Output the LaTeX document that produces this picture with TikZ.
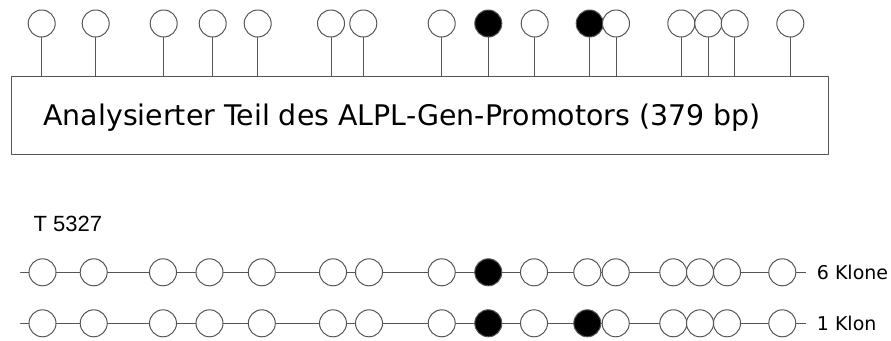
\documentclass[tikz,border=0pt]{standalone}
\usepackage{fontspec}
\setmainfont{DejaVu Sans}
\newfontfamily\arialfont{Liberation Sans}
\definecolor{strich}{RGB}{85,85,85}
\begin{document}
\begin{tikzpicture}[x=1pt,y=-1pt, line join=round, line cap=round,
	cpg/.style={circle, draw=strich, line width=1pt, fill=white, minimum size=27pt, inner sep=0pt},
	met/.style={cpg, fill=black},
	promobox/.style={draw=strich, line width=1pt, minimum width=817pt, minimum height=77.6pt, inner sep=0pt}]
	\def\ya{272.3} \def\yb{323.3} % Zeilen der Klone
	\useasboundingbox (0,0) rectangle (891,340);
	% Promotor mit CpG-Positionen
	\node[promobox] (promotor) at (419.5,115.5) {};
	\node[anchor=base west, font=\fontsize{28.4}{30}\selectfont] (titel) at (40,125) {Analysierter Teil des ALPL-Gen-Promotors (379 bp)};
	\foreach \x/\s [count=\i] in {41.7/cpg,95.7/cpg,163.7/cpg,212.7/cpg,257.7/cpg,331/cpg,363.3/cpg,441.7/cpg,488.3/met,534.7/cpg,589.7/met,616/cpg,681.3/cpg,708.3/cpg,734.7/cpg,790.3/cpg}{
		\node[\s] (t\i) at (\x,23.5) {};
		\draw[strich, line width=1pt] (t\i.south) -- (t\i.south |- promotor.north);
	}
	% Klone
	\node[anchor=base west, font=\arialfont\fontsize{22}{24}\selectfont] (probe) at (30,231.7) {T 5327};
	\coordinate (a0) at (20.7,\ya); \coordinate (aend) at (805.7,\ya);
	\coordinate (b0) at (20.7,\yb); \coordinate (bend) at (805.7,\yb);
	\draw[strich, line width=1pt] (a0) -- (aend);
	\draw[strich, line width=1pt] (b0) -- (bend);
	\foreach \x/\s/\r [count=\i] in {42.5/cpg/cpg,93.7/cpg/cpg,163/cpg/cpg,209.5/cpg/cpg,261.8/cpg/cpg,333/cpg/cpg,369/cpg/cpg,441.7/cpg/cpg,488.3/met/met,534/cpg/cpg,587.3/cpg/met,615.7/cpg/cpg,673.3/cpg/cpg,700/cpg/cpg,727/cpg/cpg,782.3/cpg/cpg}{
		\node[\s] (a\i) at (\x,\ya) {};
		\node[\r] (b\i) at (\x,\yb) {};
	}
	\node[anchor=west, font=\fontsize{19}{21}\selectfont, inner sep=0pt] (klonea) at (816.7,\ya) {6 Klone};
	\node[anchor=west, font=\fontsize{19}{21}\selectfont, inner sep=0pt] (kloneb) at (816.7,\yb) {1 Klon};
\end{tikzpicture}
\end{document}
